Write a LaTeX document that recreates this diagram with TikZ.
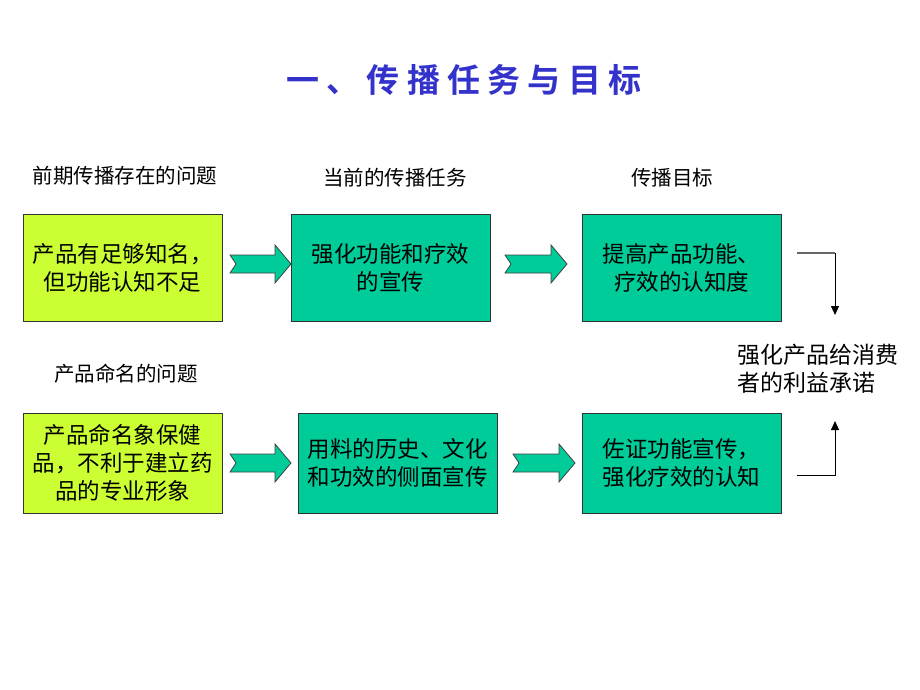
\documentclass[tikz,border=0pt]{standalone}
\usepackage{fontspec}
\newfontfamily\cjk{Noto Sans CJK SC}
\newfontfamily\cjktitle[LetterSpace=22]{Noto Sans CJK SC Bold}
\usepackage{xcolor}
\usetikzlibrary{arrows.meta,positioning,calc}
\definecolor{limebox}{HTML}{CCFF33}
\definecolor{tealbox}{HTML}{00CC99}
\definecolor{titleblue}{HTML}{3333CC}

% block arrow: tail x, tip x, centre y
\newcommand{\flowarrow}[3]{%
  \draw[blockarr] (#1,#3-9) -- (#2-16,#3-9) -- (#2-16,#3-19) -- (#2,#3)
    -- (#2-16,#3+19) -- (#2-16,#3+9) -- (#1,#3+9) -- (#1+6,#3) -- cycle;}

\begin{document}
\begin{tikzpicture}[x=1pt, y=-1pt, >=Triangle]
\tikzstyle{box}=[draw=black!80, line width=0.8pt, minimum width=199pt, inner sep=2pt,
  align=center, font=\cjk\fontsize{22.5}{28}\selectfont]
\tikzstyle{head}=[font=\cjk\fontsize{20.5}{24}\selectfont]
\tikzstyle{blockarr}=[draw=black!75, line width=0.8pt, fill=tealbox]
\tikzstyle{arr}=[->, line width=0.9pt, >={Triangle[length=9pt,width=8pt]}]

\useasboundingbox[fill=white] (0,0) rectangle (920,690);

\node[font=\cjktitle\fontsize{33}{38}\selectfont, text=titleblue] (title) at (464,80) {一、传播任务与目标};

% column headings
\node[head] (h1) at (125,176) {前期传播存在的问题};
\node[head] (h2) at (395,178) {当前的传播任务};
\node[head] (h3) at (672,178) {传播目标};
\node[head] (h4) at (126,374) {产品命名的问题};

% first row
\node[box, fill=limebox, minimum height=107pt] (b1) at (122.5,267.5) {产品有足够知名，\\但功能认知不足};
\node[box, fill=tealbox, minimum height=107pt] (b2) at (390.5,267.5) {强化功能和疗效\\的宣传};
\node[box, fill=tealbox, minimum height=107pt] (b3) at (681.5,267.5) {提高产品功能、\\疗效的认知度};

% second row
\node[box, fill=limebox, minimum height=100pt] (b4) at (122.5,463) {产品命名象保健\\品，不利于建立药\\品的专业形象};
\node[box, fill=tealbox, minimum height=100pt] (b5) at (397.5,463) {用料的历史、文化\\和功效的侧面宣传};
\node[box, fill=tealbox, minimum height=100pt] (b6) at (681.5,463) {佐证功能宣传，\\强化疗效的认知};

\flowarrow{230}{291}{264}
\flowarrow{505}{567}{264}
\flowarrow{230}{291}{463}
\flowarrow{513}{575}{463}

% result
\node[anchor=west, align=left, font=\cjk\fontsize{23}{28}\selectfont] (goal) at (734,369) {强化产品给消费\\者的利益承诺};

\coordinate (t1) at (797,253);
\coordinate (t2) at (835,253);
\coordinate (t3) at (835,315);
\coordinate (u1) at (797,475);
\coordinate (u2) at (835,475);
\coordinate (u3) at (835,421);
\draw[black!60, line width=1.6pt] (t1) -- (t2);
\draw[arr] (t2) -- (t3);
\draw[arr] (u1) -- (u2) -- (u3);

\end{tikzpicture}
\end{document}
